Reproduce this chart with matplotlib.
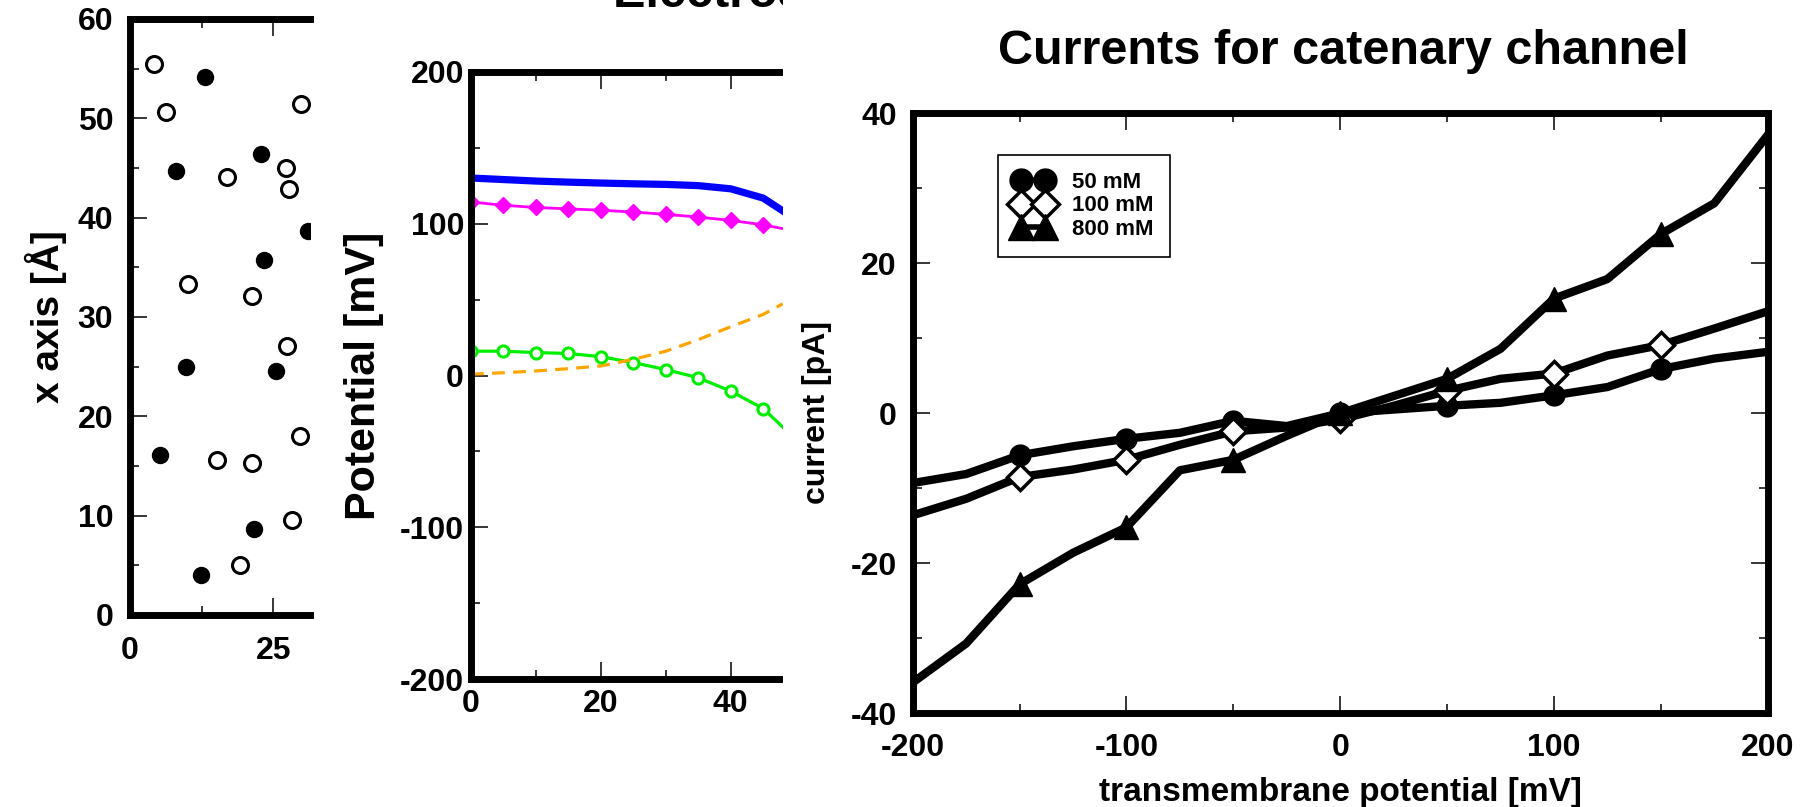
import matplotlib
matplotlib.use('Agg')
import matplotlib.pyplot as plt
from matplotlib.ticker import MultipleLocator

plt.rcParams['font.family'] = ['Liberation Sans', 'DejaVu Sans']
plt.rcParams['font.weight'] = 'bold'
plt.rcParams['axes.unicode_minus'] = False

# ---------------- data ----------------
# left panel: atom positions
open_x = [4.2, 6.2, 16.9, 10.1, 27.2, 27.8, 29.8, 21.2, 27.4, 15.1, 21.3, 29.7, 28.2, 19.2]
open_y = [55.5, 50.6, 44.1, 33.3, 45.0, 42.9, 51.4, 32.1, 27.1, 15.6, 15.3, 18.0, 9.6, 5.0]
filled_x = [13.1, 8.1, 22.8, 23.3, 9.7, 25.4, 5.3, 21.6, 12.4, 31.0]
filled_y = [54.2, 44.7, 46.4, 35.7, 25.0, 24.6, 16.1, 8.7, 4.0, 38.7]

# middle panel: potential profiles
pos = [0, 5, 10, 15, 20, 25, 30, 35, 40, 45, 48]
pot_blue = [130, 129, 128, 127.3, 126.7, 126.2, 125.8, 125.0, 122.9, 116.8, 108.4]
pot_magenta = [114.2, 112.1, 110.6, 109.7, 108.8, 107.6, 106.1, 104.3, 102.1, 99.2, 96.7]
pot_green = [16.0, 16.0, 15.1, 14.5, 12.4, 8.5, 3.9, -1.5, -10.3, -21.8, -33.9]
pot_orange = [0.9, 1.8, 3.0, 4.5, 6.3, 10.6, 16.0, 23.6, 32.1, 40.2, 47.2]

# right panel: I-V curves
voltage = [-200, -175, -150, -125, -100, -75, -50, -25, 0, 25, 50, 75, 100, 125, 150, 175, 200]
cur_50 = [-9.3, -8.1, -5.6, -4.4, -3.4, -2.6, -1.0, -1.7, 0.0, 0.5, 1.0, 1.4, 2.4, 3.5, 5.9, 7.3, 8.2]
cur_100 = [-13.6, -11.4, -8.5, -7.5, -6.2, -4.2, -2.4, -1.9, -0.8, 1.0, 3.0, 4.6, 5.3, 7.7, 9.1, 11.3, 13.6]
cur_800 = [-35.9, -30.7, -22.8, -18.6, -15.2, -7.6, -6.2, -3.0, 0.0, 2.3, 4.6, 8.6, 15.3, 17.9, 23.9, 28.0, 37.1]
conc_labels = ['50 mM', '100 mM', '800 mM']

W, H = 1810, 807
fig = plt.figure(figsize=(W / 100, H / 100), dpi=100)
fig.patch.set_facecolor('white')


def rect(x0, y0, x1, y1):
    return [x0 / W, (H - y1) / H, (x1 - x0) / W, (y1 - y0) / H]


def style(ax, lbl_size, ypad, xpad, right=True):
    for s in ['left', 'top', 'bottom', 'right']:
        ax.spines[s].set_linewidth(5)
    if not right:
        ax.spines['right'].set_visible(False)
    ax.tick_params(which='both', direction='in', top=True, right=right,
                   labelsize=lbl_size, width=1.1)
    ax.tick_params(which='major', length=12.5)
    ax.tick_params(which='minor', length=6.5)
    ax.tick_params(axis='y', which='both', pad=ypad)
    ax.tick_params(axis='x', which='both', pad=xpad)


# ---------------- left panel ----------------
ax1 = fig.add_axes(rect(130, 19, 310, 615), zorder=1)
ax1.plot(open_x, open_y, 'o', ms=11.5, mfc='white', mec='black', mew=2.2, ls='none')
ax1.plot(filled_x, filled_y, 'o', ms=11.5, mfc='black', mec='black', ls='none')
ax1.set_xlim(0, 31.4)
ax1.set_ylim(0, 60)
ax1.xaxis.set_major_locator(MultipleLocator(25))
ax1.xaxis.set_minor_locator(MultipleLocator(12.5))
ax1.yaxis.set_major_locator(MultipleLocator(10))
ax1.yaxis.set_minor_locator(MultipleLocator(5))
style(ax1, 23, 12, 15, right=False)
fig.text(46 / W, (H - 317) / H, 'x axis [Å]', rotation=90, ha='center', va='center',
         fontsize=28, weight='bold')

# ---------------- middle panel ----------------
ax2 = fig.add_axes(rect(471, 71.7, 782.7, 679.3), zorder=1)
ax2.plot(pos, pot_blue, color='#0000ff', lw=5.2)
ax2.plot(pos, pot_magenta, color='#ff00ff', lw=2, marker='D', ms=8,
         markevery=list(range(10)))
ax2.plot(pos, pot_green, color='#00ee00', lw=2.3, marker='o', ms=8, mfc='white',
         mec='#00ee00', mew=2.2, markevery=list(range(10)))
ax2.plot(pos, pot_orange, color='#ffa500', lw=2.3, ls=(0, (4, 2.6)))
ax2.set_xlim(0, 48)
ax2.set_ylim(-200, 200)
ax2.xaxis.set_major_locator(MultipleLocator(20))
ax2.xaxis.set_minor_locator(MultipleLocator(10))
ax2.yaxis.set_major_locator(MultipleLocator(100))
ax2.yaxis.set_minor_locator(MultipleLocator(50))
style(ax2, 23, 5, 7, right=False)
ax2.text(613 / W, (H - 7) / H, 'Electrostatic potential', transform=fig.transFigure,
         ha='left', va='baseline', fontsize=35, weight='bold', clip_on=False)
fig.text(364 / W, (H - 375.5) / H, 'Potential [mV]', rotation=90, ha='center', va='center',
         fontsize=31, weight='bold')

# cover hiding the rest of the middle panel
cover = fig.add_axes([782.7 / W, 0, 1 - 782.7 / W, 1], zorder=2)
cover.set_facecolor('white')
cover.set_xticks([])
cover.set_yticks([])
for s in cover.spines.values():
    s.set_visible(False)

# ---------------- right panel ----------------
ax3 = fig.add_axes(rect(912.7, 113.3, 1767.7, 713.3), zorder=3)
ax3.set_facecolor('white')
mk = slice(2, 15, 2)
ax3.plot(voltage, cur_50, color='black', lw=6, marker='o', ms=15, mfc='black',
         mec='black', markevery=mk, label=conc_labels[0])
ax3.plot(voltage, cur_100, color='black', lw=6, marker='D', ms=13, mfc='white',
         mec='black', mew=2.5, markevery=mk, label=conc_labels[1])
ax3.plot(voltage, cur_800, color='black', lw=6, marker='^', ms=17, mfc='black',
         mec='black', markevery=mk, label=conc_labels[2])
ax3.set_xlim(-200, 200)
ax3.set_ylim(-40, 40)
ax3.xaxis.set_major_locator(MultipleLocator(100))
ax3.xaxis.set_minor_locator(MultipleLocator(50))
ax3.yaxis.set_major_locator(MultipleLocator(20))
ax3.yaxis.set_minor_locator(MultipleLocator(10))
style(ax3, 23, 11.5, 14, right=True)

leg = ax3.legend(loc='upper left', bbox_to_anchor=((997.7 - 912.7) / 855, (713.3 - 155) / 600),
                 borderaxespad=0, numpoints=2, fontsize=16, handlelength=1.7,
                 handletextpad=0.9, labelspacing=0.12, borderpad=0.75, markerscale=1.1,
                 fancybox=False, framealpha=1, edgecolor='black')
leg.get_frame().set_linewidth(1.2)
for ln in leg.get_lines():
    ln.set_linewidth(4)

fig.text(1343 / W, (H - 64) / H, 'Currents for catenary channel', ha='center', va='baseline',
         fontsize=35, weight='bold', zorder=5)
fig.text(817 / W, (H - 413) / H, 'current [pA]', rotation=90, ha='center', va='center',
         fontsize=23, weight='bold', zorder=5)
fig.text(1340 / W, (H - 792) / H, 'transmembrane potential [mV]', ha='center', va='center',
         fontsize=24, weight='bold', zorder=5)

fig.savefig('out.png', dpi=100, facecolor='white')
